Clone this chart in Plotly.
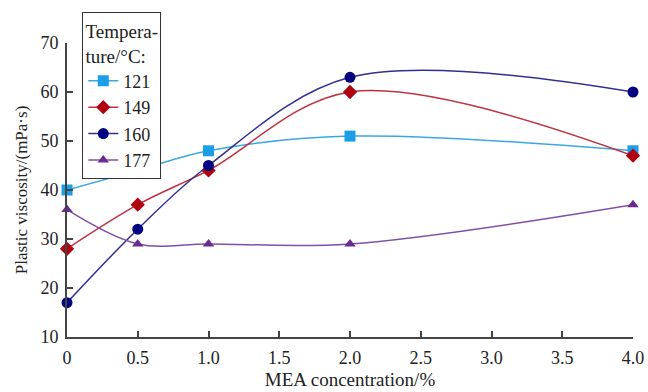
import plotly.graph_objects as go

mea = [0, 0.5, 1.0, 2.0, 4.0]
temps = ["121", "149", "160", "177"]
v121 = [40, 44, 48, 51, 48]
v149 = [28, 37, 44, 60, 47]
v160 = [17, 32, 45, 63, 60]
v177 = [36, 29, 29, 29, 37]
x_ticks = [0, 0.5, 1.0, 1.5, 2.0, 2.5, 3.0, 3.5, 4.0]
x_ticklabels = ["0", "0.5", "1.0", "1.5", "2.0", "2.5", "3.0", "3.5", "4.0"]
y_ticks = [10, 20, 30, 40, 50, 60, 70]

series = [
    (temps[0], v121, "#1a9ee8", "#3aa8e0", "square", 11),
    (temps[1], v149, "#b00010", "#c03040", "diamond", 11),
    (temps[2], v160, "#000080", "#303090", "circle", 11),
    (temps[3], v177, "#6a2a90", "#8050a8", "triangle-up", 10),
]

fig = go.Figure()
for name, vals, mcol, lcol, sym, sz in series:
    fig.add_trace(go.Scatter(
        x=mea, y=vals, name=name, mode="lines+markers",
        line=dict(color=lcol, width=1.5, shape="spline", smoothing=1.0),
        marker=dict(color=mcol, symbol=sym, size=sz, line=dict(width=0)),
        cliponaxis=False,
    ))

font_family = "Liberation Serif, Times New Roman, serif"
fig.update_layout(
    width=648, height=392,
    margin=dict(l=67, r=15, t=43, b=55, autoexpand=False),
    paper_bgcolor="white", plot_bgcolor="white",
    font=dict(family=font_family, size=18, color="#222"),
    showlegend=True,
    legend=dict(
        x=0.027, y=1.105, xanchor="left", yanchor="top",
        bordercolor="#333", borderwidth=1, bgcolor="white",
        font=dict(size=18, family=font_family, color="#222"),
        title=dict(text="Tempera-<br>ture/°C:", side="top center",
                   font=dict(size=19, family=font_family, color="#222")),
        tracegroupgap=0,
    ),
    xaxis=dict(
        range=[0, 4.0], tickvals=x_ticks, ticktext=x_ticklabels,
        showgrid=False, zeroline=False, showline=True,
        linecolor="#444", linewidth=2, ticks="inside", ticklen=6,
        tickcolor="#444", tickwidth=1.5, automargin=False,
        ticklabelstandoff=3,
        tickfont=dict(size=18, family=font_family),
        title=dict(text="MEA concentration/%", font=dict(size=19, family=font_family), standoff=6),
    ),
    yaxis=dict(
        range=[10, 70], tickvals=y_ticks,
        showgrid=False, zeroline=False, showline=True,
        linecolor="#444", linewidth=2, ticks="inside", ticklen=6,
        tickcolor="#444", tickwidth=1.5, automargin=False,
        ticklabelstandoff=3,
        tickfont=dict(size=18, family=font_family),
        title=dict(text="Plastic viscosity/(mPa·s)", font=dict(size=17, family=font_family), standoff=8),
    ),
)

fig.write_html(
    "out.html",
    config={"displayModeBar": False},
    post_script="document.body.style.margin='0';document.body.style.overflow='hidden';",
)
